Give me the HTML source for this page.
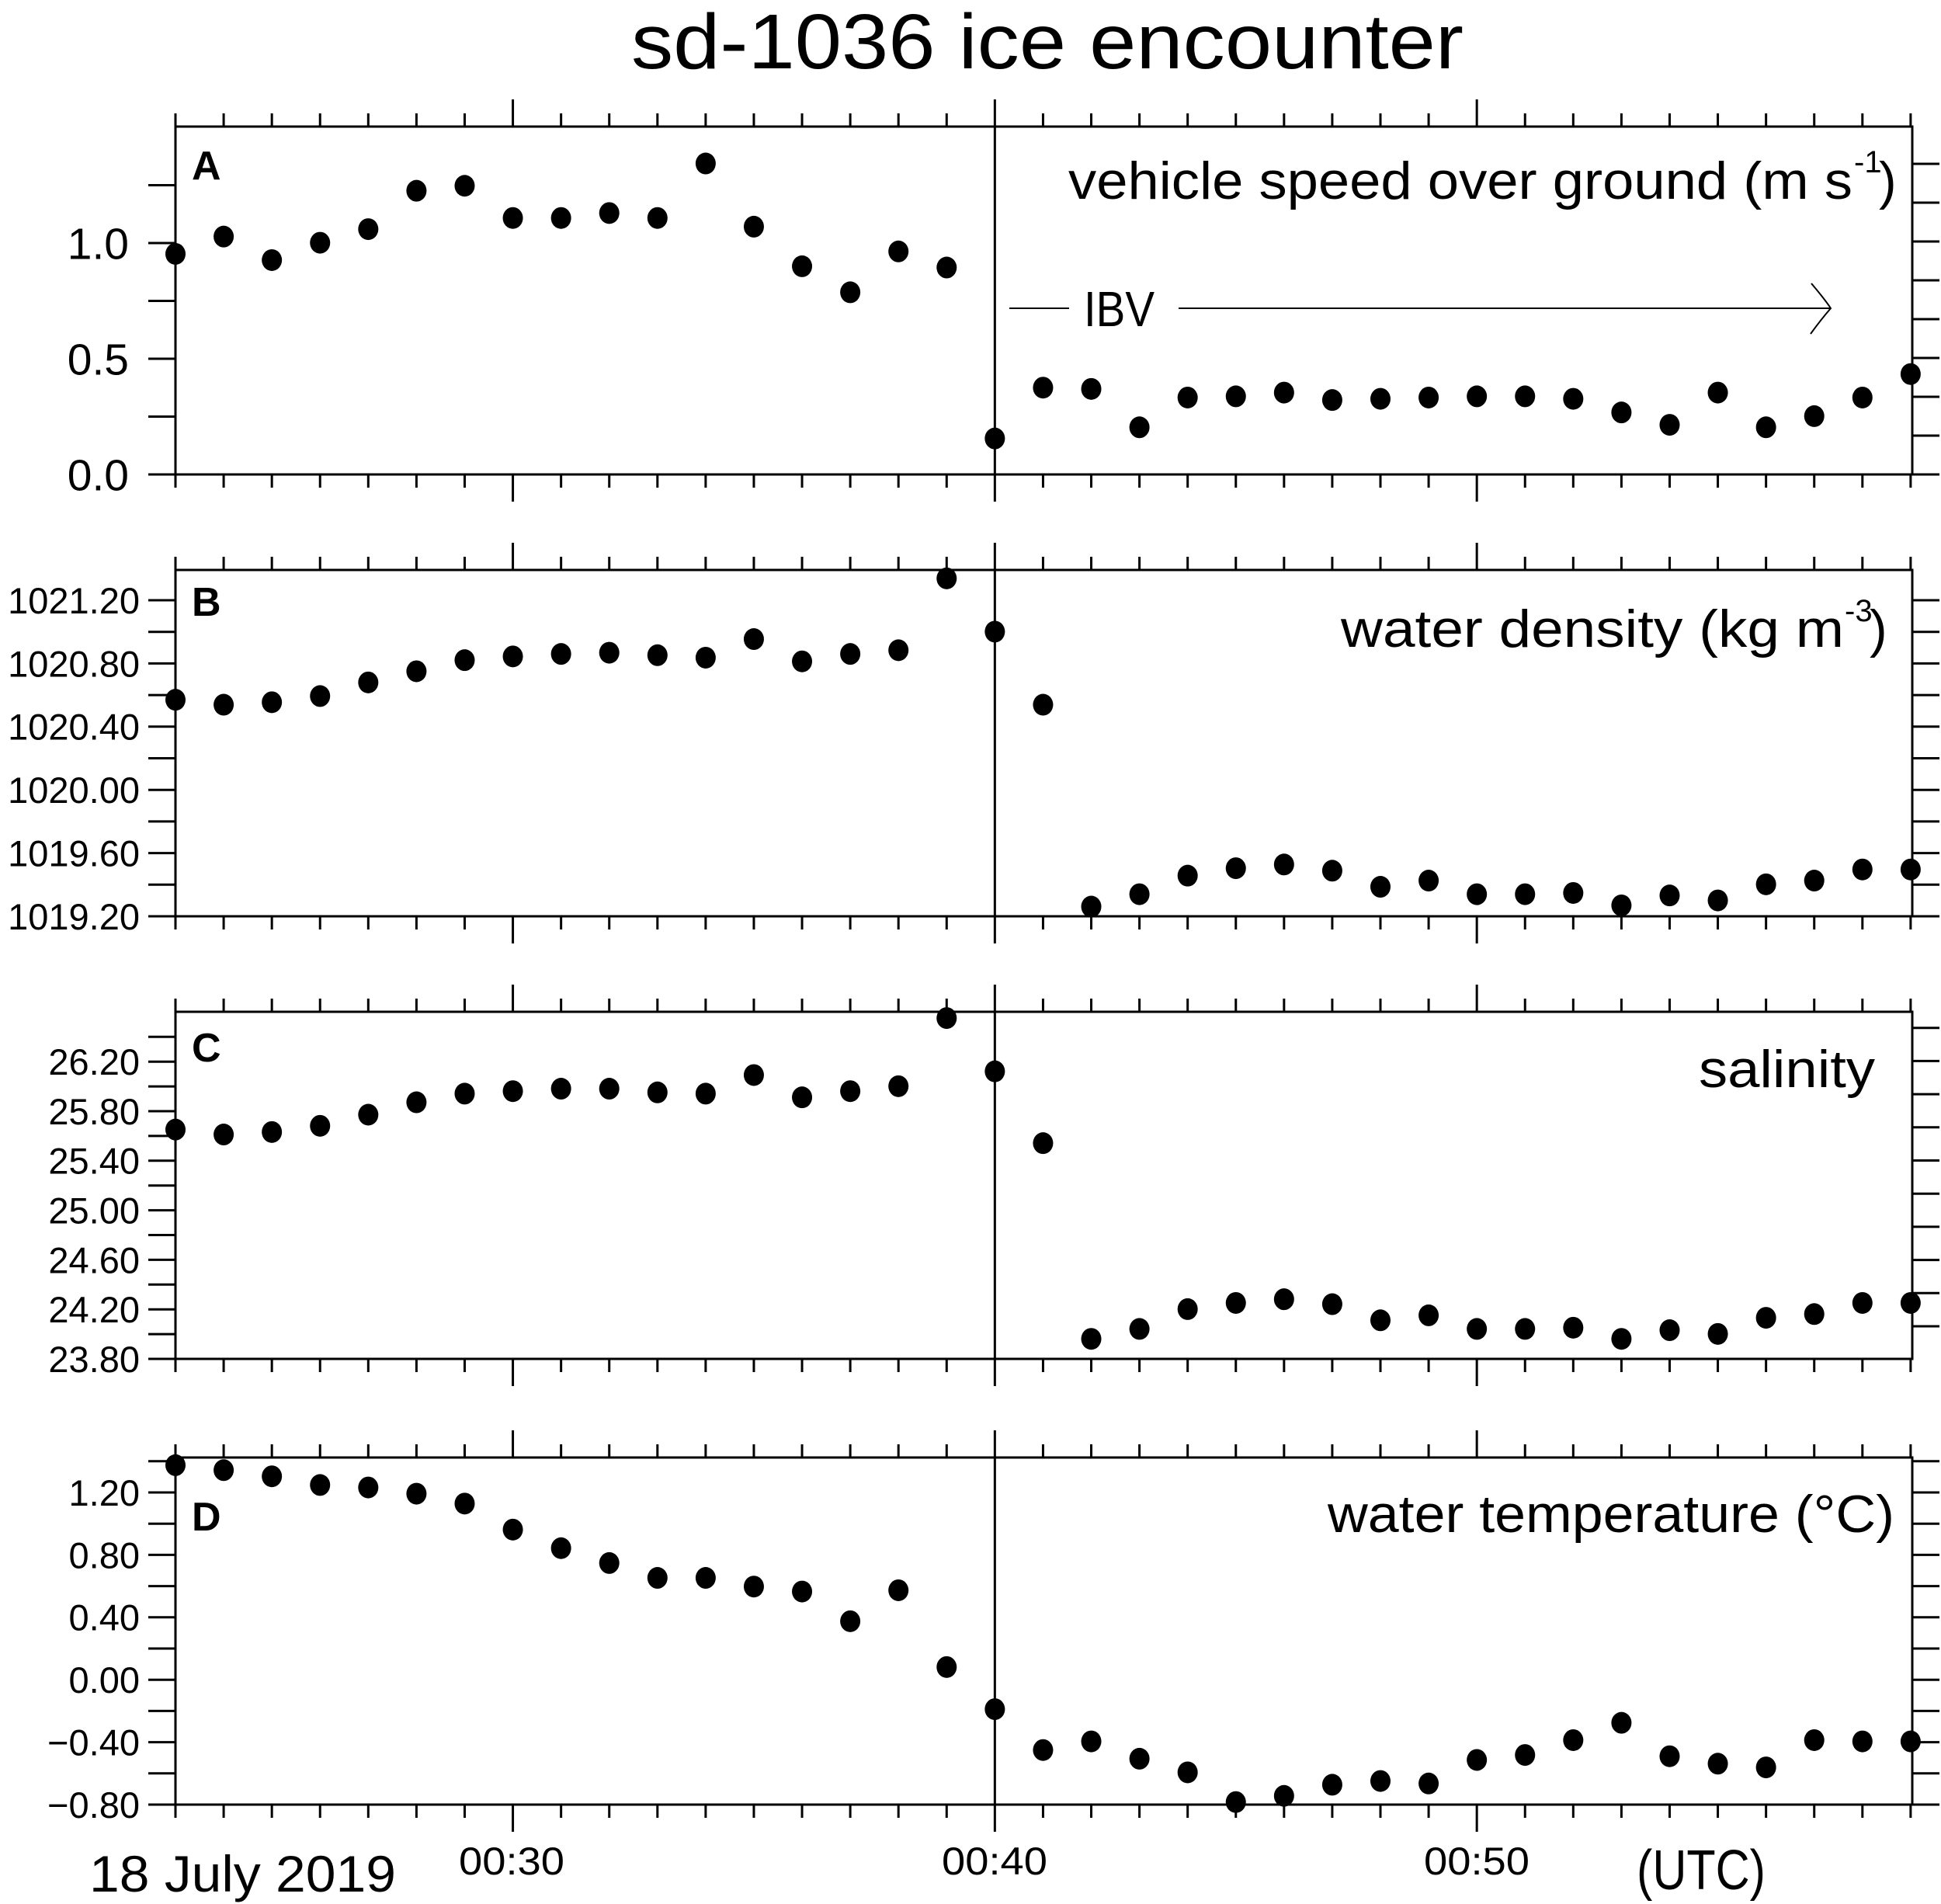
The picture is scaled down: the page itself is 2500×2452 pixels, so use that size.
<!DOCTYPE html>
<html><head><meta charset="utf-8"><style>
html,body{margin:0;padding:0;background:#fff;}
svg{display:block;}
text{font-family:"Liberation Sans",sans-serif;fill:#000;}
</style></head><body>
<svg id="s" xmlns="http://www.w3.org/2000/svg" width="2500" height="2452" viewBox="0 0 2500 2452">
<rect width="2500" height="2452" fill="#fff"/>
<text x="813" y="88" font-size="100" textLength="1072" lengthAdjust="spacingAndGlyphs">sd-1036 ice encounter</text>
<text x="1376" y="256" font-size="68" textLength="1010" lengthAdjust="spacingAndGlyphs">vehicle speed over ground (m s</text>
<text x="2388" y="222" font-size="40">-1</text>
<text x="2420" y="256" font-size="68">)</text>
<text x="1727" y="833" font-size="68" textLength="648" lengthAdjust="spacingAndGlyphs">water density (kg m</text>
<text x="2376" y="800" font-size="40">-3</text>
<text x="2408" y="833" font-size="68">)</text>
<text x="2188" y="1400" font-size="68" textLength="227" lengthAdjust="spacingAndGlyphs">salinity</text>
<text x="1710" y="1973" font-size="68" textLength="730" lengthAdjust="spacingAndGlyphs">water temperature (°C)</text>
<g font-weight="bold" font-size="52">
<text x="247" y="231">A</text><text x="247" y="793">B</text><text x="247" y="1367">C</text><text x="247" y="1971">D</text>
</g>
<line x1="1300" y1="397" x2="1377" y2="397" stroke="#000" stroke-width="2"/>
<text x="1396" y="420" font-size="64" textLength="91" lengthAdjust="spacingAndGlyphs">IBV</text>
<line x1="1518" y1="397" x2="2358" y2="397" stroke="#000" stroke-width="2"/>
<path d="M2333 365 Q2350 385 2358 397 Q2345 412 2332 430" fill="none" stroke="#000" stroke-width="2"/>
<text x="115" y="2436" font-size="66" textLength="395" lengthAdjust="spacingAndGlyphs">18 July 2019</text>
<text x="591" y="2414" font-size="50" textLength="136" lengthAdjust="spacingAndGlyphs">00:30</text>
<text x="1213" y="2414" font-size="50" textLength="136" lengthAdjust="spacingAndGlyphs">00:40</text>
<text x="1834" y="2414" font-size="50" textLength="136" lengthAdjust="spacingAndGlyphs">00:50</text>
<text x="2108" y="2433" font-size="72" textLength="166" lengthAdjust="spacingAndGlyphs">(UTC)</text>
</svg>
<script>
(function(){
var s=document.getElementById('s'),NS='http://www.w3.org/2000/svg';
function el(n,a){var e=document.createElementNS(NS,n);for(var k in a)e.setAttribute(k,a[k]);s.appendChild(e);return e;}
function ln(x1,y1,x2,y2){el('line',{x1:x1,y1:y1,x2:x2,y2:y2,stroke:'#000','stroke-width':3});}
function tx(x,y,t,fs){var e=el('text',{x:x,y:y,'font-size':fs,'text-anchor':'end'});e.textContent=t;}
var L=226,R=2463,dx=62.08;
var panels=[
{t:163,b:611,lt:{y0:611,st:74.5,n:6},lab:[[611,'0.0'],[462,'0.5'],[313,'1.0']],fs:57,rt:{y0:611,st:50,n:9},
d:[205,191,210,196,185,154,150,176,176,172,176,132,183,215,236,203,216,354,313,314,345,321,320,317,323,322,321,320,320,322,333,343,317,345,336,321,302]},
{t:734,b:1180,lt:{y0:1180,st:40.7,n:11},lab:[[1180,'1019.20'],[1098.6,'1019.60'],[1017.2,'1020.00'],[935.8,'1020.40'],[854.4,'1020.80'],[773,'1021.20']],fs:47,rt:{y0:1180,st:40.7,n:11},
d:[565,569,567,562,551,542,533,530,528,527,529,531,516,534,528,525,467,510,569,732,722,707,701,698,703,716,711,722,722,721,731,723,727,714,711,702,702]},
{t:1303,b:1750,lt:{y0:1750,st:31.9,n:14},lab:[[1750,'23.80'],[1686.2,'24.20'],[1622.4,'24.60'],[1558.6,'25.00'],[1494.8,'25.40'],[1431,'25.80'],[1367.2,'26.20']],fs:47,rt:{y0:1708,st:42.7,n:10},
d:[912,916,914,909,900,890,883,881,879,879,882,883,868,886,881,877,822,865,923,1081,1073,1057,1052,1049,1053,1066,1062,1073,1073,1072,1081,1074,1077,1064,1061,1052,1052]},
{t:1877,b:2324,lt:{y0:2324,st:40.2,n:12},lab:[[2324,'\u22120.80'],[2243.6,'\u22120.40'],[2163.2,'0.00'],[2082.8,'0.40'],[2002.4,'0.80'],[1922,'1.20']],fs:47,rt:{y0:2324,st:40.2,n:12},
d:[1183,1187,1192,1199,1201,1206,1214,1235,1250,1262,1274,1274,1281,1285,1309,1284,1346,1380,1413,1406,1420,1431,1455,1450,1441,1438,1440,1421,1417,1405,1391,1418,1424,1427,1405,1406,1406]}
];
panels.forEach(function(p){
 el('rect',{x:L,y:p.t,width:R-L,height:p.b-p.t,fill:'none',stroke:'#000','stroke-width':3});
 ln(L+17*dx,p.t,L+17*dx,p.b);
 for(var m=0;m<=36;m++){var x=L+m*dx,maj=(m==7||m==17||m==27),len=maj?35:17;
  ln(x,p.b,x,p.b+len);ln(x,p.t,x,p.t-len);}
 for(var k=0;k<p.lt.n;k++){var y=p.lt.y0-k*p.lt.st;if(y<p.t+3)continue;ln(L-35,y,L,y);}
 for(var k=0;k<p.rt.n;k++){var y=p.rt.y0-k*p.rt.st;if(y<p.t+3)continue;ln(R,y,R+35,y);}
 p.lab.forEach(function(l){tx(p.fs>50?166:180,l[0]+p.fs*0.36,l[1],p.fs);});
 p.d.forEach(function(v,i){el('ellipse',{cx:L+i*dx,cy:v*1.595,rx:13,ry:14,fill:'#000'});});
});
})();
</script>
</body></html>
